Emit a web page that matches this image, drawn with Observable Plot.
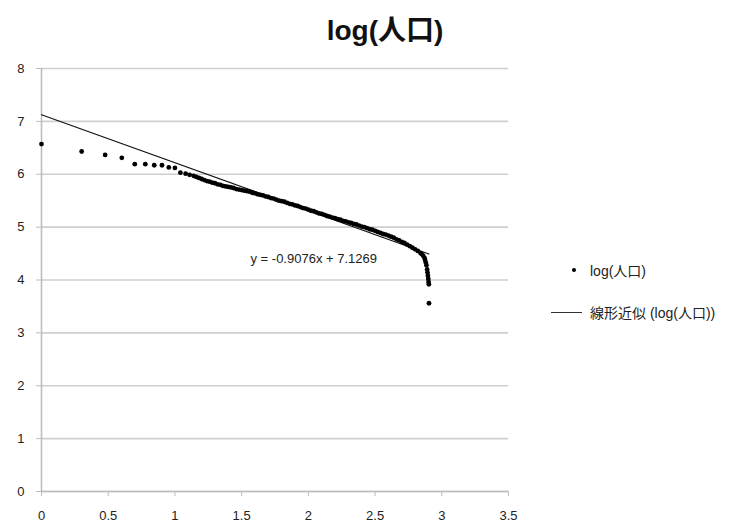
<!DOCTYPE html>
<html><head><meta charset="utf-8">
<script src="https://cdn.jsdelivr.net/npm/d3@7"></script>
<script src="https://cdn.jsdelivr.net/npm/@observablehq/plot@0.6"></script>
<style>
body{margin:0;background:#fff;}
#wrap{position:relative;width:749px;height:529px;font-family:"Liberation Sans","Noto Sans CJK JP",sans-serif;}
#title{position:absolute;left:285px;width:200px;top:8px;text-align:center;font-size:28px;font-weight:bold;color:#111;}
#legend{position:absolute;left:551px;top:260px;font-size:14px;color:#222;}
.li{display:flex;align-items:center;height:20px;margin-bottom:22px;}
.sw{width:31px;display:flex;justify-content:flex-end;align-items:center;margin-right:8px;}
.dot{width:4px;height:4px;background:#000;border-radius:50%;margin-right:6px;}
.ln{width:31px;height:0;border-top:1.5px solid #333;}
</style>
</head><body>
<div id="wrap"><div id="title"></div><div id="legend"></div><div id="chart"></div></div>
<script>
const title = "log(人口)";
const seriesName = "log(人口)";
const fitName = "線形近似 (log(人口))";
const equation = "y = -0.9076x + 7.1269";
const slope = -0.9076;
const intercept = 7.1269;
const xTicks = [0, 0.5, 1, 1.5, 2, 2.5, 3, 3.5];
const yTicks = [0, 1, 2, 3, 4, 5, 6, 7, 8];
const fitRange = [0, 2.904];

// log(rank) and log(population)
const logRank = [0, 0.301, 0.477, 0.602, 0.699, 0.778, 0.845, 0.903, 0.954, 1.0, 1.041, 1.08, 1.11,
 1.14,1.16,1.18,1.20,1.22,1.24,1.26,1.28,1.30,1.32,1.34,1.36,1.38,1.40,1.42,1.44,1.46,1.48,1.50,
 1.52,1.54,1.56,1.58,1.60,1.62,1.64,1.66,1.68,1.70,1.72,1.74,1.76,1.78,1.80,1.82,1.84,1.86,1.88,
 1.90,1.92,1.94,1.96,1.98,2.00,2.02,2.04,2.06,2.08,2.10,2.12,2.14,2.16,2.18,2.20,2.22,2.24,2.26,
 2.28,2.30,2.32,2.34,2.36,2.38,2.40,2.42,2.44,2.46,2.48,2.50,2.52,2.54,2.56,2.58,2.60,2.62,2.64,
 2.66,2.68,2.70,2.72,2.74,2.76,2.78,2.80,2.82,2.84,2.85,2.86,2.87,2.875,2.88,2.885,2.89,2.893,
 2.896,2.899,2.901,2.903,2.904];
const logPop = [6.57, 6.43, 6.365, 6.31, 6.19, 6.19, 6.17, 6.17, 6.13, 6.12, 6.03, 6.01, 5.99,
 5.97,5.95,5.93,5.91,5.89,5.87,5.86,5.84,5.83,5.81,5.80,5.78,5.77,5.76,5.75,5.74,5.72,5.71,5.70,
 5.69,5.68,5.67,5.65,5.64,5.62,5.61,5.60,5.58,5.57,5.55,5.54,5.52,5.50,5.49,5.48,5.46,5.44,5.43,
 5.41,5.40,5.38,5.36,5.35,5.33,5.31,5.30,5.28,5.26,5.25,5.23,5.21,5.20,5.18,5.17,5.15,5.14,5.12,
 5.11,5.09,5.08,5.06,5.05,5.03,5.01,5.00,4.98,4.96,4.95,4.93,4.91,4.89,4.87,4.86,4.84,4.82,4.80,
 4.77,4.75,4.72,4.70,4.67,4.64,4.61,4.58,4.55,4.51,4.49,4.46,4.42,4.38,4.33,4.28,4.20,4.14,
 4.08,4.02,3.96,3.92,3.56];

const pts = logRank.map((x, i) => ({x, y: logPop[i]}));
const fit = fitRange.map(x => ({x, y: intercept + slope * x}));

document.getElementById("title").textContent = title;
document.getElementById("legend").innerHTML =
  `<div class="li"><div class="sw"><div class="dot"></div></div><span>${seriesName}</span></div>` +
  `<div class="li"><div class="sw"><div class="ln"></div></div><span>${fitName}</span></div>`;

const chart = Plot.plot({
  width: 749, height: 529,
  marginLeft: 41, marginRight: 241, marginTop: 68, marginBottom: 38,
  style: {fontFamily: "'Liberation Sans','Noto Sans CJK JP',sans-serif", fontSize: "13px", color: "#222", background: "#fff"},
  x: {domain: [0, 3.5]},
  y: {domain: [0, 8]},
  marks: [
    Plot.ruleY(yTicks, {stroke: "#cfcfcf", strokeWidth: 1.6}),
    Plot.ruleX([0], {stroke: "#bdbdbd", strokeWidth: 1.6}),
    Plot.ruleY([0], {stroke: "#bdbdbd", strokeWidth: 1.6}),
    Plot.axisX({ticks: xTicks, tickFormat: d => String(d), tickSize: 5, tickPadding: 14, stroke: "#bdbdbd", label: null, fontSize: 13}),
    Plot.axisY({ticks: yTicks, tickFormat: d => String(d), tickSize: 5, tickPadding: 12, stroke: "#bdbdbd", label: null, fontSize: 13}),
    Plot.line(fit, {x: "x", y: "y", stroke: "#111", strokeWidth: 1.1}),
    Plot.dot(pts, {x: "x", y: "y", r: 2.4, fill: "#000", stroke: null}),
    Plot.text([equation], {frameAnchor: "top-left", dx: 209, dy: 185, textAnchor: "start", fontSize: 13, fill: "#222"})
  ]
});
document.getElementById("chart").appendChild(chart);
</script>
</body></html>
